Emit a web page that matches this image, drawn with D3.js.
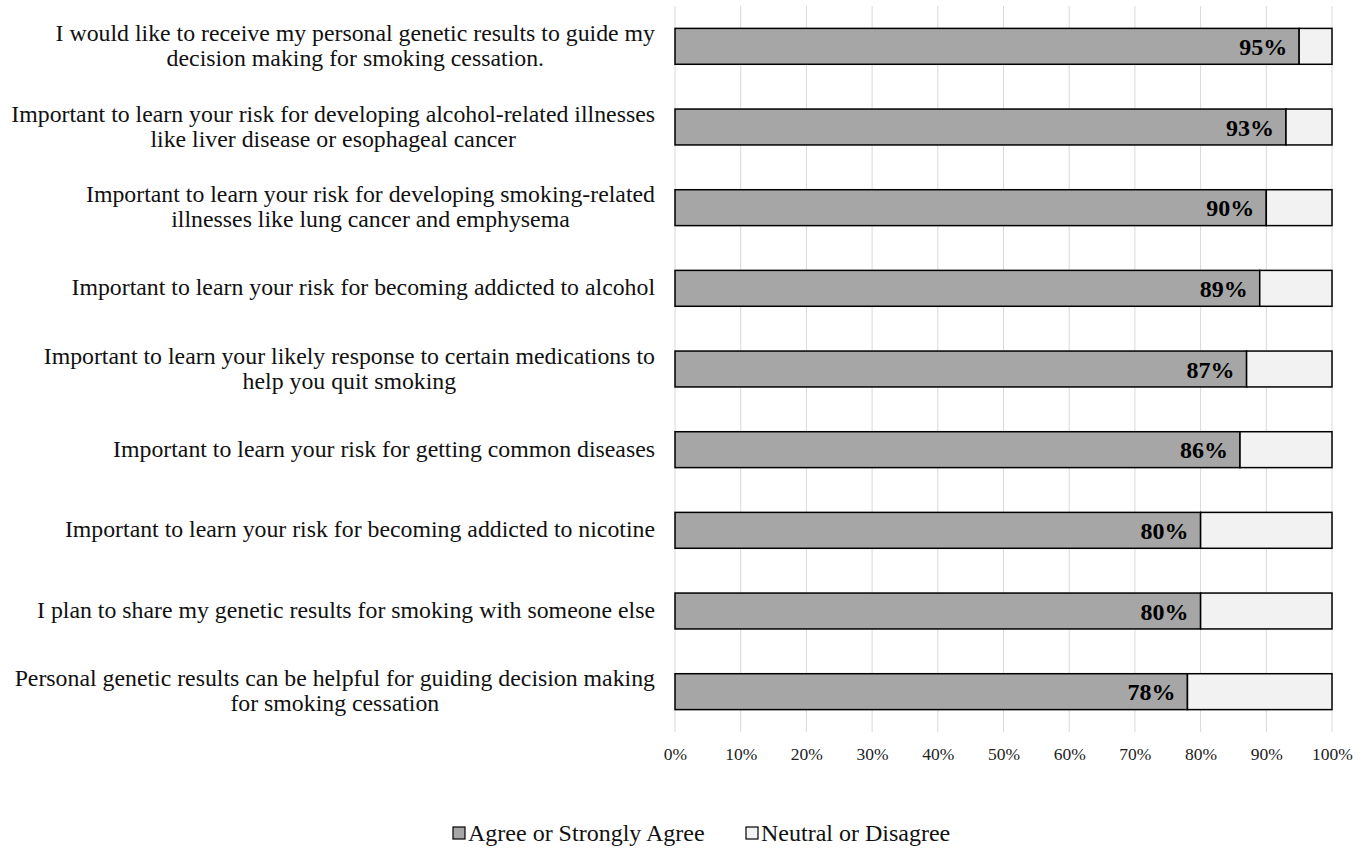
<!DOCTYPE html>
<html><head><meta charset="utf-8">
<script src="https://cdn.jsdelivr.net/npm/d3@7"></script>
<style>body{margin:0;background:#fff}svg{display:block}</style>
</head><body>
<script>
const categories = [
  ["I would like to receive my personal genetic results to guide my", "decision making for smoking cessation."],
  ["Important to learn your risk for developing alcohol-related illnesses", "like liver disease or esophageal cancer"],
  ["Important to learn your risk for developing smoking-related", "illnesses like lung cancer and emphysema"],
  ["Important to learn your risk for becoming addicted to alcohol"],
  ["Important to learn your likely response to certain medications to", "help you quit smoking"],
  ["Important to learn your risk for getting common diseases"],
  ["Important to learn your risk for becoming addicted to nicotine"],
  ["I plan to share my genetic results for smoking with someone else"],
  ["Personal genetic results can be helpful for guiding decision making", "for smoking cessation"]
];
const agree = [95, 93, 90, 89, 87, 86, 80, 80, 78];
const ticks = [0,10,20,30,40,50,60,70,80,90,100];
const seriesNames = ["Agree or Strongly Agree", "Neutral or Disagree"];
const colors = ["#a6a6a6", "#f2f2f2"];

const W = 1369, H = 850;
const svg = d3.select("body").append("svg").attr("width", W).attr("height", H);
const font = "'Liberation Serif','Times New Roman',serif";
const x = d3.scaleLinear().domain([0,100]).range([675, 1332]);
const y = d3.scaleBand().domain(d3.range(categories.length)).range([6, 732]).paddingInner(0.555).paddingOuter(0.2775);

// grid
svg.append("g").selectAll("line").data(ticks).join("line")
  .attr("x1", d => x(d)).attr("x2", d => x(d)).attr("y1", 6).attr("y2", 732)
  .attr("stroke", "#d9d9d9").attr("stroke-width", 1);

// bars
const rows = svg.append("g").selectAll("g").data(agree).join("g");
rows.append("rect").attr("x", x(0)).attr("y", (d,i) => y(i))
  .attr("width", d => x(d) - x(0)).attr("height", y.bandwidth())
  .attr("fill", colors[0]).attr("stroke", "#000").attr("stroke-width", 1.5);
rows.append("rect").attr("x", d => x(d)).attr("y", (d,i) => y(i))
  .attr("width", d => x(100) - x(d)).attr("height", y.bandwidth())
  .attr("fill", colors[1]).attr("stroke", "#000").attr("stroke-width", 1.5);
rows.append("text").attr("x", d => x(d) - 12).attr("y", (d,i) => y(i) + y.bandwidth()/2)
  .attr("dy", "0.36em").attr("text-anchor", "end")
  .attr("font-family", font).attr("font-weight", "bold").attr("font-size", 24)
  .text(d => d + "%");

// category labels: block right-aligned at 655, lines centered within block
const labRight = 655, lh = 25;
const lab = svg.append("g").selectAll("text").data(categories).join("text")
  .attr("text-anchor", "middle").attr("font-family", font).attr("font-size", 23.8).attr("fill", "#111")
  .attr("y", (d,i) => y(i) + y.bandwidth()/2);
lab.selectAll("tspan").data(d => d.map((t,j) => ({t, j, n: d.length}))).join("tspan")
  .attr("dy", d => d.j === 0 ? ((-(d.n-1)/2)*lh + 7) + "px" : lh + "px")
  .text(d => d.t);
lab.each(function() {
  const ts = d3.select(this).selectAll("tspan").nodes();
  const mw = d3.max(ts, n => n.getComputedTextLength());
  ts.forEach(n => n.setAttribute("x", labRight - mw/2));
});

// x axis
const xa = svg.append("g").attr("transform", "translate(0,736)")
  .call(d3.axisBottom(x).tickValues(ticks).tickFormat(d => d + "%").tickSize(0).tickPadding(12));
xa.select(".domain").remove();
xa.selectAll("text").attr("font-family", font).attr("font-size", 17.5).attr("fill", "#222");

// legend
const leg = svg.append("g");
const lx = [453, 746];
seriesNames.forEach((s, i) => {
  leg.append("rect").attr("x", lx[i]).attr("y", 827).attr("width", 12).attr("height", 12)
    .attr("fill", colors[i]).attr("stroke", "#000").attr("stroke-width", 1.2);
  leg.append("text").attr("x", lx[i] + 15).attr("y", 833).attr("dy", "0.35em")
    .attr("font-family", font).attr("font-size", 24).attr("fill", "#111").text(s);
});
</script>
</body></html>
